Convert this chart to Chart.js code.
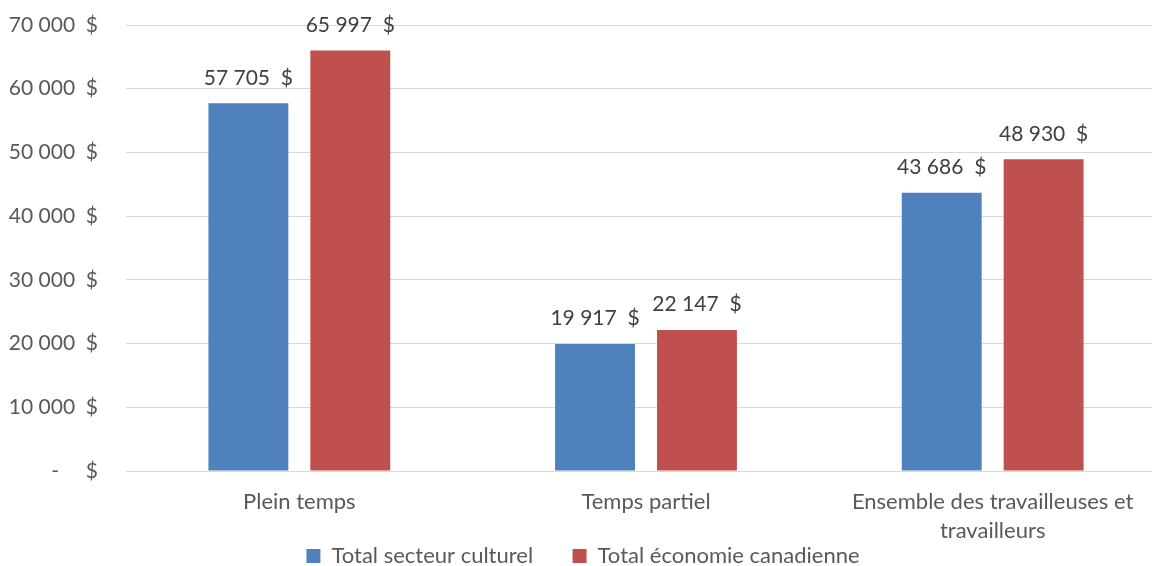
<!DOCTYPE html>
<html>
<head>
<meta charset="utf-8">
<script src="https://cdn.jsdelivr.net/npm/chart.js@4"></script>
<style>
  html, body { margin: 0; padding: 0; background: #fff; overflow: hidden; }
  /* plot area runs a little past the right edge of the window, as in the original */
  #wrap { width: 1166px; height: 566px; position: relative; }
</style>
</head>
<body>
<div id="wrap"><canvas id="chart"></canvas></div>
<script>
// Revenu moyen d'emploi — secteur culturel vs économie canadienne

const CATEGORIES = ['Plein temps', 'Temps partiel', ['Ensemble des travailleuses et', 'travailleurs']];
const SERIES_NAMES = ['Total secteur culturel', 'Total économie canadienne'];
const CULTURE_VALUES = [57705, 19917, 43686];
const ECONOMY_VALUES = [65997, 22147, 48930];
const Y_TICKS = [0, 10000, 20000, 30000, 40000, 50000, 60000, 70000];

const COLORS = {
  blue: '#4F81BD',
  red: '#C0504D',
  grid: '#D9D9D9',
  text: '#595959',
  label: '#404040',
};

const FONT = "'Lato', 'Open Sans', sans-serif";

function fmtMoney(v) {
  if (v === 0) return '-     $';
  return String(v).replace(/\B(?=(\d{3})+(?!\d))/g, ' ') + '  $';
}

// draw value labels above each bar
const valueLabels = {
  id: 'valueLabels',
  afterDatasetsDraw(chart) {
    const ctx = chart.ctx;
    ctx.save();
    ctx.font = '21px ' + FONT;
    ctx.fillStyle = COLORS.label;
    ctx.textAlign = 'center';
    ctx.textBaseline = 'bottom';
    chart.data.datasets.forEach((ds, i) => {
      chart.getDatasetMeta(i).data.forEach((bar, j) => {
        ctx.fillText(fmtMoney(ds.data[j]), bar.x, bar.y - 15);
      });
    });
    ctx.restore();
  },
};

// legend: keep its box short so the x labels get the room
const legendTweak = {
  id: 'legendTweak',
  afterInit(chart) {
    const lg = chart.legend;
    const fit = lg.fit;
    lg.fit = function () {
      fit.call(this);
      this.height = 21;
    };
  },
};

new Chart(document.getElementById('chart'), {
  type: 'bar',
  data: {
    labels: CATEGORIES,
    datasets: [
      { label: SERIES_NAMES[0], data: CULTURE_VALUES, backgroundColor: COLORS.blue, categoryPercentage: 0.588, barPercentage: 0.784 },
      { label: SERIES_NAMES[1], data: ECONOMY_VALUES, backgroundColor: COLORS.red, categoryPercentage: 0.588, barPercentage: 0.784 },
    ],
  },
  options: {
    responsive: true,
    maintainAspectRatio: false,
    animation: false,
    layout: { padding: { top: 25, left: 0, right: 0, bottom: 0 } },
    plugins: {
      legend: {
        position: 'bottom',
        labels: {
          color: COLORS.text,
          font: { family: FONT, size: 22 },
          boxWidth: 14,
          boxHeight: 14,
          padding: 0,
          // widen the gap after the first entry
          generateLabels: chart => {
            const items = Chart.defaults.plugins.legend.labels.generateLabels(chart);
            items[0].text += '       ';
            return items;
          },
        },
      },
      tooltip: { enabled: false },
    },
    scales: {
      x: {
        grid: { display: false },
        border: { display: false },
        afterFit: s => { s.height = 74; },
        ticks: { color: COLORS.text, font: { family: FONT, size: 22, lineHeight: 1.32 }, maxRotation: 0, padding: 8 },
      },
      y: {
        min: 0,
        max: 70000,
        afterFit: s => { s.width = 126; },
        afterBuildTicks: s => { s.ticks = Y_TICKS.map(v => ({ value: v })); },
        grid: { color: COLORS.grid, lineWidth: 1, tickLength: 28, tickColor: 'rgba(0,0,0,0)' },
        border: { display: false },
        ticks: { color: COLORS.text, font: { family: FONT, size: 21 }, padding: 0, callback: v => fmtMoney(v) },
      },
    },
  },
  plugins: [valueLabels, legendTweak],
});
</script>
</body>
</html>
